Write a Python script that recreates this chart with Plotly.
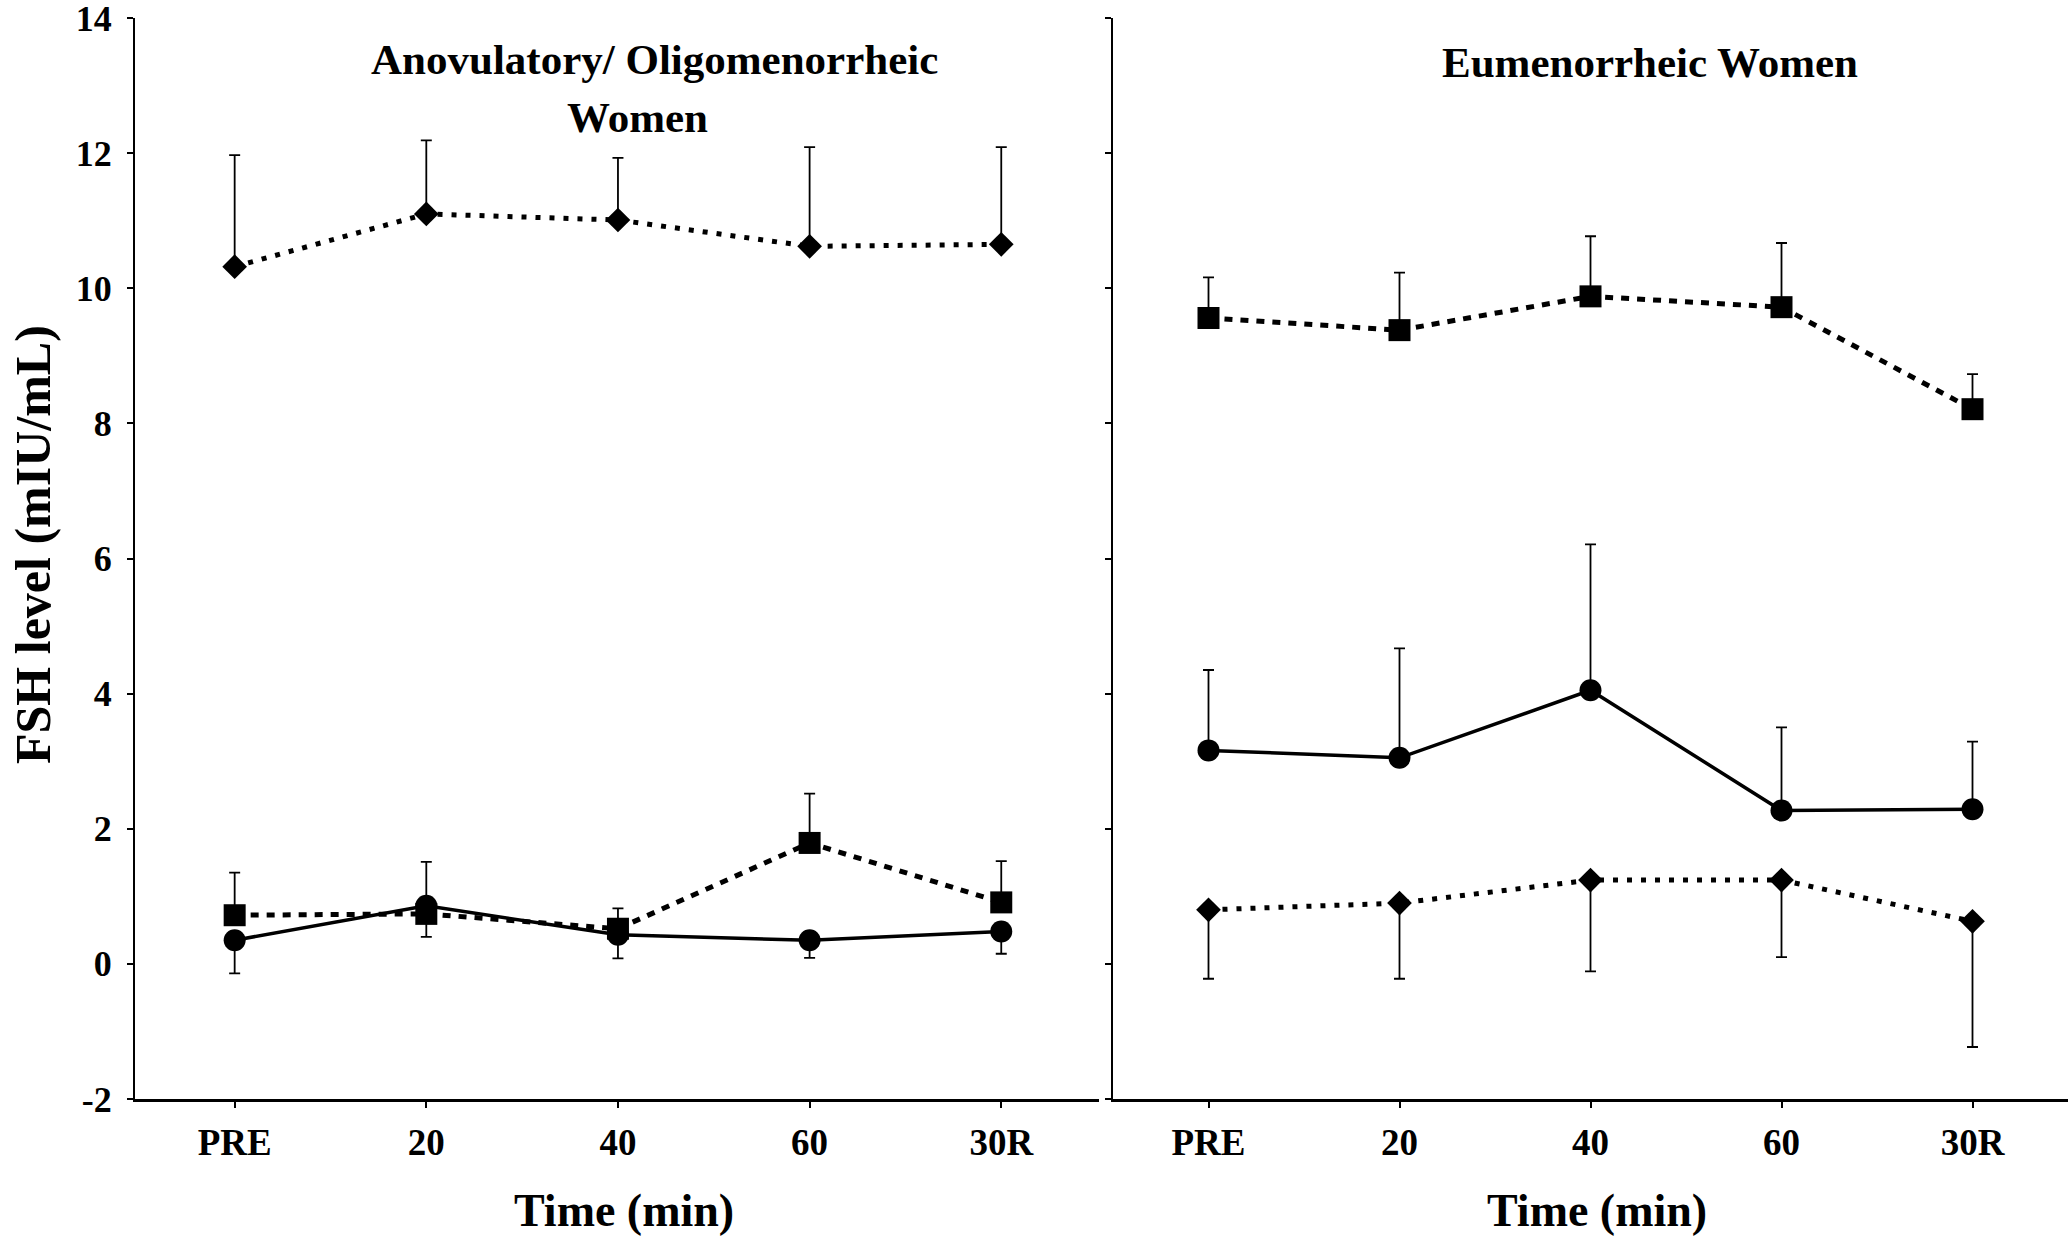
import plotly.graph_objects as go

# ---------------- data ----------------
categories = ["PRE", "20", "40", "60", "30R"]

# Anovulatory / Oligomenorrheic women (left panel)
anov_diamond = [10.32, 11.10, 11.01, 10.62, 10.65]
anov_diamond_up = [1.65, 1.09, 0.92, 1.47, 1.44]
anov_square = [0.72, 0.74, 0.52, 1.79, 0.91]
anov_square_up = [0.63, 0.77, 0.30, 0.73, 0.61]
anov_circle = [0.35, 0.86, 0.43, 0.35, 0.48]
anov_circle_down = [0.49, 0.46, 0.35, 0.26, 0.33]

# Eumenorrheic women (right panel)
eum_square = [9.56, 9.38, 9.88, 9.72, 8.21]
eum_square_up = [0.60, 0.85, 0.89, 0.95, 0.52]
eum_circle = [3.16, 3.05, 4.05, 2.27, 2.29]
eum_circle_up = [1.19, 1.62, 2.16, 1.23, 1.00]
eum_diamond = [0.80, 0.90, 1.24, 1.24, 0.63]
eum_diamond_down = [1.02, 1.12, 1.35, 1.14, 1.86]

y_ticks = [-2, 0, 2, 4, 6, 8, 10, 12, 14]
y_tick_text = ["-2", "0", "2", "4", "6", "8", "10", "12", "14"]

# ---------------- styling ----------------
FONT = "Liberation Serif"
BLACK = "#000000"
zeros = [0] * len(categories)

W, H = 2070, 1237
ML, MR, MT, MB = 135, 2, 18, 138


def err(up=None, down=None):
    return dict(
        type="data", symmetric=False,
        array=up if up is not None else zeros,
        arrayminus=down if down is not None else zeros,
        color=BLACK, thickness=1.8, width=5.5,
    )


def trace(y, symbol, size, dash, lw, xa, ya, up=None, down=None):
    return go.Scatter(
        x=categories, y=y, mode="lines+markers",
        line=dict(color=BLACK, width=lw, dash=dash),
        marker=dict(symbol=symbol, size=size, color=BLACK),
        error_y=err(up, down),
        xaxis=xa, yaxis=ya, showlegend=False, hoverinfo="skip",
    )


DOT = "5px,9px"
DASH = "8px,8px"

fig = go.Figure()
# left panel
fig.add_trace(trace(anov_diamond, "diamond", 19, DOT, 5, "x", "y", up=anov_diamond_up))
fig.add_trace(trace(anov_square, "square", 22, DASH, 5, "x", "y", up=anov_square_up))
fig.add_trace(trace(anov_circle, "circle", 22, "solid", 3.5, "x", "y", down=anov_circle_down))
# right panel
fig.add_trace(trace(eum_square, "square", 22, DASH, 5, "x2", "y2", up=eum_square_up))
fig.add_trace(trace(eum_circle, "circle", 22, "solid", 3.5, "x2", "y2", up=eum_circle_up))
fig.add_trace(trace(eum_diamond, "diamond", 19, DOT, 5, "x2", "y2", down=eum_diamond_down))

pw = W - ML - MR
ph = H - MT - MB


def px_x(page_px):
    return (page_px - ML) / pw


def px_y(page_py):
    return (H - MB - page_py) / ph


left_dom = [0, px_x(1099)]
right_dom = [px_x(1113), 1]

tick_font = dict(family=FONT, size=36, color=BLACK, weight="bold")

xaxis_common = dict(
    type="category", categoryorder="array", categoryarray=categories,
    showline=True, linecolor=BLACK, linewidth=2.5, mirror=False,
    ticks="outside", ticklen=6, tickwidth=2, tickcolor=BLACK,
    showgrid=False, zeroline=False, automargin=False,
    tickfont=dict(tick_font, size=37),
    ticklabelstandoff=3,
)
yaxis_common = dict(
    range=[-2, 14], tickvals=y_ticks, ticktext=y_tick_text,
    showline=True, linecolor=BLACK, linewidth=2, mirror=False,
    ticks="outside", ticklen=6, tickwidth=2, tickcolor=BLACK,
    showgrid=False, zeroline=False, automargin=False,
    ticklabeloverflow="allow",
)

fig.update_layout(
    width=W, height=H,
    margin=dict(l=ML, r=MR, t=MT, b=MB, pad=0, autoexpand=False),
    paper_bgcolor="white", plot_bgcolor="white",
    font=dict(family=FONT, color=BLACK),
    xaxis=dict(domain=left_dom, range=[-0.52, 4.51], anchor="y", **xaxis_common),
    xaxis2=dict(domain=right_dom, range=[-0.5, 4.5], anchor="y2", **xaxis_common),
    yaxis=dict(domain=[0, 1], anchor="x", tickfont=tick_font, ticklabelstandoff=8,
               **yaxis_common),
    yaxis2=dict(domain=[0, 1], anchor="x2", showticklabels=False, **yaxis_common),
)

ann = []
bold = lambda s: f"<b>{s}</b>"
ann.append(dict(text=bold("Anovulatory/ Oligomenorrheic"), x=px_x(654), y=px_y(60),
                font=dict(size=43)))
ann.append(dict(text=bold("Women"), x=px_x(637), y=px_y(118), font=dict(size=43)))
ann.append(dict(text=bold("Eumenorrheic Women"), x=px_x(1650), y=px_y(62), font=dict(size=43)))
ann.append(dict(text=bold("Time (min)"), x=px_x(624), y=px_y(1210), font=dict(size=46)))
ann.append(dict(text=bold("Time (min)"), x=px_x(1597), y=px_y(1210), font=dict(size=46)))
ann.append(dict(text=bold("FSH level (mIU/mL)"), x=px_x(33), y=px_y(545), textangle=-90,
                font=dict(size=50)))
for a in ann:
    a.update(xref="paper", yref="paper", xanchor="center", yanchor="middle",
             showarrow=False)
    a["font"].update(family=FONT, color=BLACK)
fig.update_layout(annotations=ann)

fig.write_html("out.html", config={"displayModeBar": False},
               post_script="document.body.style.margin='0px';")
